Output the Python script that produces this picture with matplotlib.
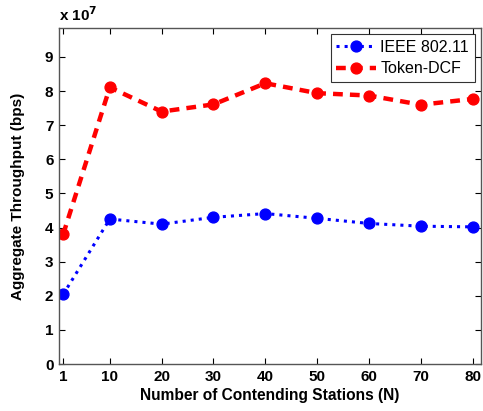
import matplotlib
matplotlib.use("Agg")
import matplotlib.pyplot as plt

plt.rcParams['font.family'] = ['Liberation Sans', 'DejaVu Sans']
plt.rcParams['font.weight'] = 'bold'

stations = [1, 10, 20, 30, 40, 50, 60, 70, 80]
ieee_80211 = [2.04, 4.25, 4.10, 4.30, 4.41, 4.27, 4.12, 4.04, 4.02]
token_dcf = [3.80, 8.11, 7.40, 7.61, 8.23, 7.94, 7.87, 7.60, 7.77]
x_ticks = [1, 10, 20, 30, 40, 50, 60, 70, 80]
y_ticks = [0, 1, 2, 3, 4, 5, 6, 7, 8, 9]

fig = plt.figure(figsize=(4.83, 4.11), dpi=100)
ax = fig.add_axes([59 / 483, 1 - 364 / 411, (481 - 59) / 483, (364 - 28) / 411])

ax.plot(stations, ieee_80211, color='#0000ff', linestyle=':', linewidth=2.2,
        marker='o', markersize=7.8, label='IEEE 802.11')
ax.plot(stations, token_dcf, color='#ff0000', linestyle=(0, (2.2, 1.6)), linewidth=3.2,
        marker='o', markersize=7.8, label='Token-DCF')

ax.set_xlim(0.2, 81.6)
ax.set_ylim(0, 9.85)
ax.set_xticks(x_ticks)
ax.set_yticks(y_ticks)
ax.tick_params(direction='in', top=True, right=True, length=4, width=0.8,
               labelsize=11, pad=4)
for lbl in ax.get_xticklabels() + ax.get_yticklabels():
    lbl.set_fontweight('bold')
for s in ax.spines.values():
    s.set_color('#555555')
    s.set_linewidth(1.0)

ax.set_xlabel('Number of Contending Stations (N)', fontsize=11.2, fontweight='bold', labelpad=3)
ax.set_ylabel('Aggregate Throughput (bps)', fontsize=11, fontweight='bold', labelpad=14)
ax.text(0.0, 1.012, r'x 10$^{7}$', transform=ax.transAxes, fontsize=11,
        fontweight='bold', ha='left', va='bottom')

leg = ax.legend(loc='upper right', fontsize=11.5, frameon=True, fancybox=False,
                edgecolor='black', handlelength=2.5, borderpad=0.35,
                labelspacing=0.4, handletextpad=0.25, borderaxespad=0.4)
leg.get_frame().set_linewidth(0.8)
for t in leg.get_texts():
    t.set_fontweight('normal')

fig.savefig('out.png', dpi=100)
